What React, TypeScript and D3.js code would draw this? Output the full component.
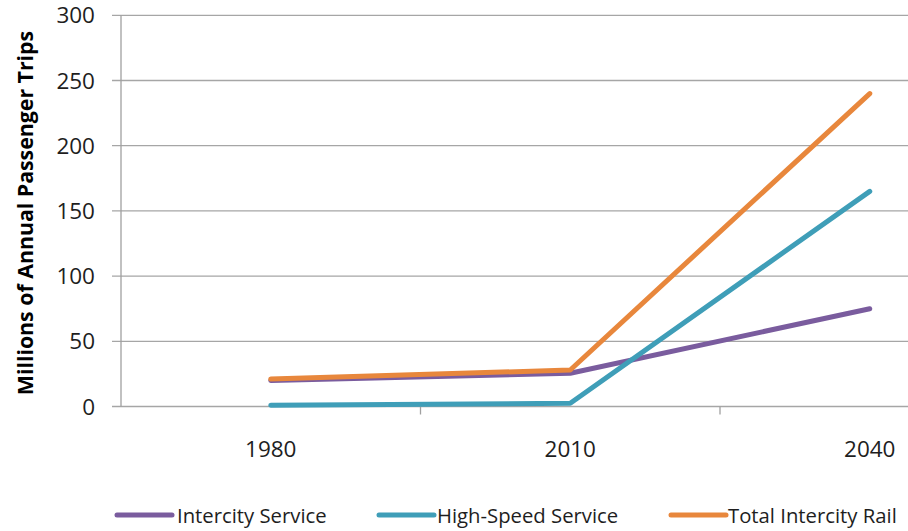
import React from "react";
import * as d3 from "d3";

const categories = ["1980", "2010", "2040"];
const intercity = [20, 25.5, 75];
const highSpeed = [1, 2.5, 165];
const totalRail = [21, 28, 240];
const yTicks = [0, 50, 100, 150, 200, 250, 300];
const seriesNames = ["Intercity Service", "High-Speed Service", "Total Intercity Rail"];
const seriesColors = ["#7A5C9E", "#3F9EB8", "#E8873C"];
const yTitle = "Millions of Annual Passenger Trips";

const W = 908;
const H = 531;
const FONT = "'Open Sans', 'DejaVu Sans', sans-serif";

export default function App() {
  const x0 = 121;
  const band = 299.5;
  const x = d3
    .scaleBand<string>()
    .domain(categories)
    .range([x0, x0 + band * categories.length])
    .paddingInner(0)
    .paddingOuter(0);
  const y = d3.scaleLinear().domain([0, 300]).range([406.5, 15.3]);
  const cx = (c: string) => (x(c) as number) + x.bandwidth() / 2;

  const data = [intercity, highSpeed, totalRail];
  const line = d3
    .line<number>()
    .x((_, i) => cx(categories[i]))
    .y((d) => y(d));

  const legendItems = [
    { lx: 117, tx: 177 },
    { lx: 379, tx: 437 },
    { lx: 671, tx: 728 },
  ];

  return (
    <svg
      width={W}
      height={H}
      style={{ position: "absolute", left: 0, top: 0, background: "#fff" }}
    >
      {yTicks.map((t) => (
        <g key={t}>
          <line x1={112} x2={W} y1={y(t)} y2={y(t)} stroke="#A6A6A6" strokeWidth={1.3} />
          <text
            x={95}
            y={y(t)}
            dy="0.36em"
            textAnchor="end"
            fontFamily={FONT}
            fontSize={22.5}
            fill="#1e1e1e"
          >
            {t}
          </text>
        </g>
      ))}
      <line x1={x0} x2={x0} y1={y(300)} y2={y(0)} stroke="#A0A0A0" strokeWidth={1.3} />
      {categories.map((c, i) => (
        <line
          key={"t" + c}
          x1={x0 + band * (i + 1)}
          x2={x0 + band * (i + 1)}
          y1={y(0)}
          y2={y(0) + 8}
          stroke="#A0A0A0"
          strokeWidth={1.3}
        />
      ))}
      {categories.map((c) => (
        <text
          key={c}
          x={cx(c)}
          y={457}
          textAnchor="middle"
          fontFamily={FONT}
          fontSize={22.5}
          fill="#1e1e1e"
        >
          {c}
        </text>
      ))}
      <text
        transform={`translate(33, 213) rotate(-90)`}
        textAnchor="middle"
        fontFamily={FONT}
        fontWeight="bold"
        fontSize={21.3}
        fill="#000"
      >
        {yTitle}
      </text>
      {data.map((d, i) => (
        <path
          key={seriesNames[i]}
          d={line(d) as string}
          fill="none"
          stroke={seriesColors[i]}
          strokeWidth={5}
          strokeLinejoin="round"
          strokeLinecap="round"
        />
      ))}
      {seriesNames.map((n, i) => (
        <g key={"lg" + n}>
          <line
            x1={legendItems[i].lx}
            x2={legendItems[i].lx + 55}
            y1={515}
            y2={515}
            stroke={seriesColors[i]}
            strokeWidth={5}
            strokeLinecap="round"
          />
          <text
            x={legendItems[i].tx}
            y={523}
            fontFamily={FONT}
            fontSize={20.3}
            fill="#1e1e1e"
          >
            {n}
          </text>
        </g>
      ))}
    </svg>
  );
}
